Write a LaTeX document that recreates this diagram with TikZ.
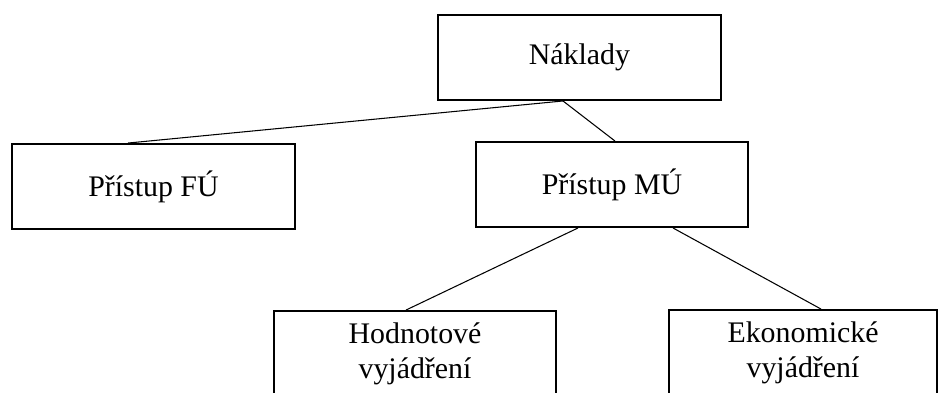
\documentclass[tikz,border=0pt]{standalone}
\usepackage{fontspec}
\setmainfont{Liberation Serif}
\usepackage{tikz}

\begin{document}
\begin{tikzpicture}[every node/.style={font=\fontsize{17}{20}\selectfont},box/.style={draw,line width=1.1pt,align=center,minimum width=5.66cm,minimum height=1.7cm,inner sep=0pt},link/.style={line width=0.6pt}]
\useasboundingbox (0,0) rectangle (18.8,-7.84);
\node[box] (nakl) at (11.59,-1.15) {Náklady};
\node[box] (fu) at (3.07,-3.73) {Přístup FÚ};
\node[box,minimum width=5.44cm] (mu) at (12.24,-3.69) {Přístup MÚ};
\node[box,minimum width=5.64cm] (hod) at (8.3,-7.07) {Hodnotové\\vyjádření};
\node[box,minimum width=5.36cm] (eko) at (16.06,-7.05) {Ekonomické\\vyjádření};
\draw[link] ([xshift=-0.33cm]nakl.south)--([xshift=-0.51cm]fu.north);
\draw[link] ([xshift=-0.33cm]nakl.south)--([xshift=0.06cm]mu.north);
\draw[link] ([xshift=-0.68cm]mu.south)--([xshift=-0.18cm]hod.north);
\draw[link] ([xshift=1.22cm]mu.south)--([xshift=0.36cm]eko.north);
\end{tikzpicture}
\end{document}
